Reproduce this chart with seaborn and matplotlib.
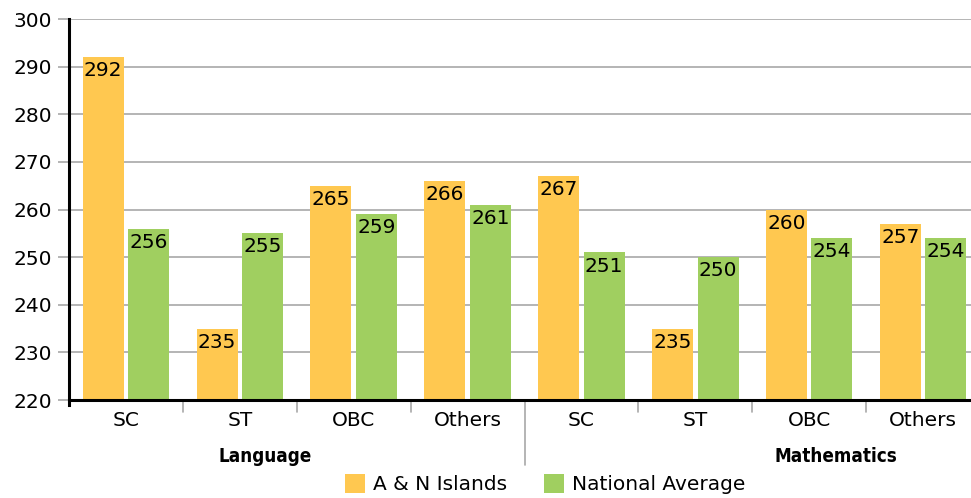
import pandas as pd
import numpy as np
import matplotlib
matplotlib.use("Agg")
import matplotlib.pyplot as plt
import seaborn as sns
from matplotlib.lines import Line2D

# Chart data
subjects = ["Language", "Mathematics"]
groups = ["SC", "ST", "OBC", "Others"]
series = ["A & N Islands", "National Average"]
an_islands = [292, 235, 265, 266, 267, 235, 260, 257]
national_avg = [256, 255, 259, 261, 251, 250, 254, 254]
y_ticks = [220, 230, 240, 250, 260, 270, 280, 290, 300]
colors = ["#FFC850", "#A0CF60"]

# Long-form table for seaborn
keys = [f"{s} {g}" for s in subjects for g in groups]
short = [g for s in subjects for g in groups]
df = pd.DataFrame({
    "key": keys * 2,
    "score": an_islands + national_avg,
    "series": [series[0]] * len(keys) + [series[1]] * len(keys),
})

sns.set_style("white")
plt.rcParams["font.family"] = ["DejaVu Sans"]
plt.rcParams["text.color"] = "black"
plt.rcParams["xtick.color"] = "black"
plt.rcParams["ytick.color"] = "black"

fig = plt.figure(figsize=(9.71, 4.98), dpi=100)
ax = fig.add_axes([69 / 971, 1 - 400 / 498, 911 / 971, 381 / 498])

sns.barplot(data=df, x="key", y="score", hue="series", order=keys,
            hue_order=series, palette=colors, width=0.8, gap=0.1,
            saturation=1, linewidth=0, legend=True, ax=ax, zorder=2)

ax.set_ylim(220, 300)
ax.set_xlim(-0.5, len(keys) - 0.5)
ax.set_yticks(y_ticks)
ax.yaxis.grid(True, color="#a8a8a8", linewidth=1.2, zorder=0)
ax.set_axisbelow(True)
ax.tick_params(axis="y", length=8, width=1.2, color="#a8a8a8",
               labelcolor="black", labelsize=14.5, pad=4, left=True)
ax.set_xticks(np.arange(len(keys)))
ax.set_xticklabels([])
ax.tick_params(axis="x", length=0)
ax.set_xlabel("")
ax.set_ylabel("")

for side in ["top", "right"]:
    ax.spines[side].set_visible(False)
for side in ["left", "bottom"]:
    ax.spines[side].set_color("black")
    ax.spines[side].set_linewidth(2.2)
ax.spines["left"].set_bounds(219, 300)

# value labels inside bar tops
for cont in ax.containers:
    for bar in cont:
        h = bar.get_height()
        ax.annotate(f"{h:.0f}", (bar.get_x() + bar.get_width() / 2, h),
                    xytext=(0, -3), textcoords="offset points",
                    ha="center", va="top", fontsize=14.5, color="black")

tr = ax.get_xaxis_transform()
# category labels
for i, lab in enumerate(short):
    ax.text(i, -0.055, lab, transform=tr, ha="center", va="center",
            fontsize=14.5, color="black")

# separators between categories
for b in [0.5, 1.5, 2.5, 4.5, 5.5, 6.5]:
    ax.add_line(Line2D([b, b], [0, -0.032], transform=tr, color="#a8a8a8",
                       linewidth=1.2, clip_on=False))
ax.add_line(Line2D([3.5, 3.5], [0, -0.17], transform=tr, color="#a8a8a8",
                   linewidth=1.2, clip_on=False))

# subject labels
ax.text(1.22, -0.147, subjects[0], transform=tr, ha="center", va="center",
        fontsize=13.5, fontweight="bold", fontstretch="condensed",
        color="black")
ax.text(6.23, -0.147, subjects[1], transform=tr, ha="center", va="center",
        fontsize=13.5, fontweight="bold", fontstretch="condensed",
        color="black")

handles, labels = ax.get_legend_handles_labels()
ax.get_legend().remove()
fig.legend(handles, labels, loc="center", bbox_to_anchor=(545 / 971, 1 - 484 / 498),
           ncol=2, frameon=False, fontsize=14.5, handlelength=1.0,
           handleheight=1.1, handletextpad=0.4, columnspacing=1.8,
           labelcolor="black")

fig.savefig("out.png", dpi=100)
